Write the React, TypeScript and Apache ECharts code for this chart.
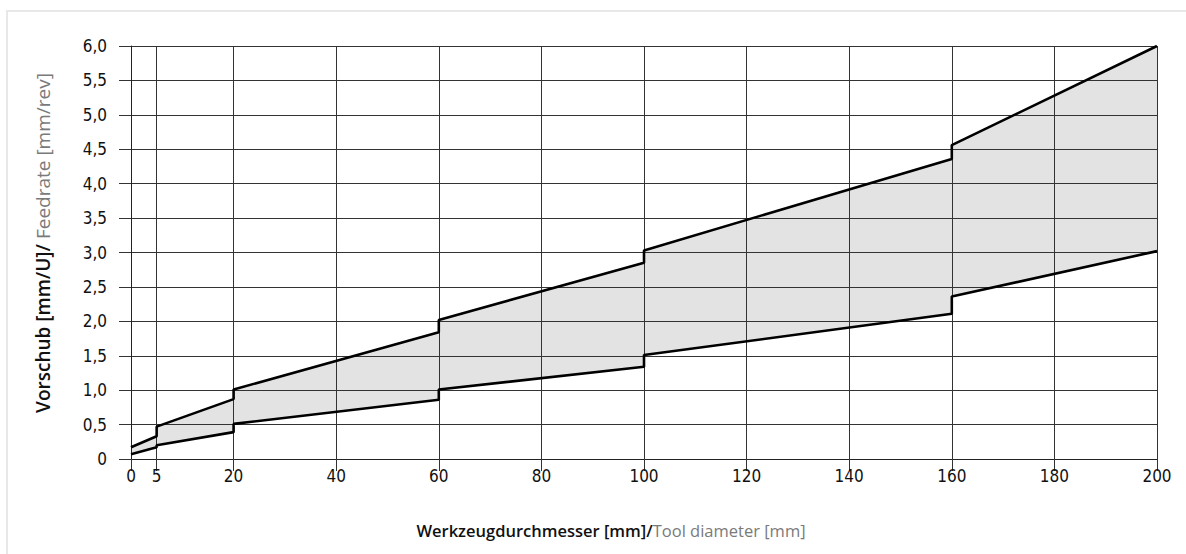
import React, { useEffect, useRef } from "react";
import * as echarts from "echarts";

const stepX = [0, 5, 5, 20, 20, 60, 60, 100, 100, 160, 160, 200];
const upperFeed = [0.17, 0.33, 0.47, 0.87, 1.01, 1.84, 2.02, 2.85, 3.03, 4.36, 4.56, 6.0];
const lowerFeed = [0.07, 0.17, 0.2, 0.39, 0.51, 0.86, 1.01, 1.34, 1.51, 2.11, 2.36, 3.02];
const xTicks = [0, 5, 20, 40, 60, 80, 100, 120, 140, 160, 180, 200];

const tickFont = '"Liberation Sans Narrow", "DejaVu Sans Condensed", sans-serif';
const titleFont = '"Open Sans", Lato, sans-serif';

export default function App() {
  const ref = useRef<HTMLDivElement>(null);
  useEffect(() => {
    document.body.style.margin = "0";
    const chart = echarts.init(ref.current!, null, { renderer: "svg" });
    const upper = stepX.map((x, i) => [x, upperFeed[i]]);
    const lower = stepX.map((x, i) => [x, lowerFeed[i]]);
    chart.setOption({
      animation: false,
      grid: { left: 131, right: 29, top: 46, bottom: 95 },
      xAxis: {
        type: "value",
        min: 0,
        max: 200,
        axisLine: { show: true, onZero: false, lineStyle: { color: "#222", width: 1 } },
        axisTick: { show: true, length: 12, customValues: xTicks, lineStyle: { color: "#333" } },
        axisLabel: {
          customValues: xTicks,
          margin: 8,
          color: "#111",
          fontFamily: tickFont,
          fontSize: 17,
        },
        splitLine: { show: true, lineStyle: { color: "#333", width: 1 } },
      },
      yAxis: {
        type: "value",
        min: 0,
        max: 6,
        interval: 0.5,
        axisLine: { show: true, lineStyle: { color: "#222", width: 1 } },
        axisTick: { show: true, length: 12, lineStyle: { color: "#333" } },
        axisLabel: {
          margin: 24,
          color: "#111",
          fontFamily: tickFont,
          fontSize: 17,
          formatter: (v: number) => (v === 0 ? "0" : v.toFixed(1).replace(".", ",")),
        },
        splitLine: { show: true, lineStyle: { color: "#333", width: 1 } },
      },
      series: [
        {
          type: "custom",
          z: -1,
          data: [[0, 0]],
          renderItem: (params: any, api: any) => {
            const pts = upper.map((p) => api.coord(p)).concat(
              lower.slice().reverse().map((p) => api.coord(p))
            );
            return { type: "polygon", shape: { points: pts }, style: { fill: "#e3e3e3" } };
          },
        },
        {
          type: "line",
          data: upper,
          showSymbol: false,
          symbol: "none",
          lineStyle: { color: "#000", width: 2.6 },
          z: 5,
        },
        {
          type: "line",
          data: lower,
          showSymbol: false,
          symbol: "none",
          lineStyle: { color: "#000", width: 2.6 },
          z: 5,
        },
      ],
      graphic: [
        {
          type: "rect",
          shape: { x: 7, y: 11, width: 1300, height: 700 },
          style: { fill: "none", stroke: "#e8e8e8", lineWidth: 2 },
          silent: true,
        },
        {
          type: "text",
          x: 611,
          y: 530,
          style: {
            text: "{a|Werkzeugdurchmesser [mm]/}{b|Tool diameter [mm]}",
            align: "center",
            verticalAlign: "middle",
            rich: {
              a: { fontFamily: titleFont, fontSize: 16.5, fontWeight: 600, fill: "#111" },
              b: { fontFamily: titleFont, fontSize: 16.5, fontWeight: 500, fill: "#7a7a7a" },
            },
          },
        },
        {
          type: "text",
          x: 43,
          y: 243,
          rotation: Math.PI / 2,
          style: {
            text: "{a|Vorschub [mm/U]/ }{b|Feedrate [mm/rev]}",
            align: "center",
            verticalAlign: "middle",
            rich: {
              a: { fontFamily: titleFont, fontSize: 19, fontWeight: 600, fill: "#111" },
              b: { fontFamily: titleFont, fontSize: 19, fontWeight: 500, fill: "#7a7a7a" },
            },
          },
        },
      ],
    });
    return () => chart.dispose();
  }, []);
  return <div ref={ref} style={{ width: 1186, height: 554 }} />;
}
